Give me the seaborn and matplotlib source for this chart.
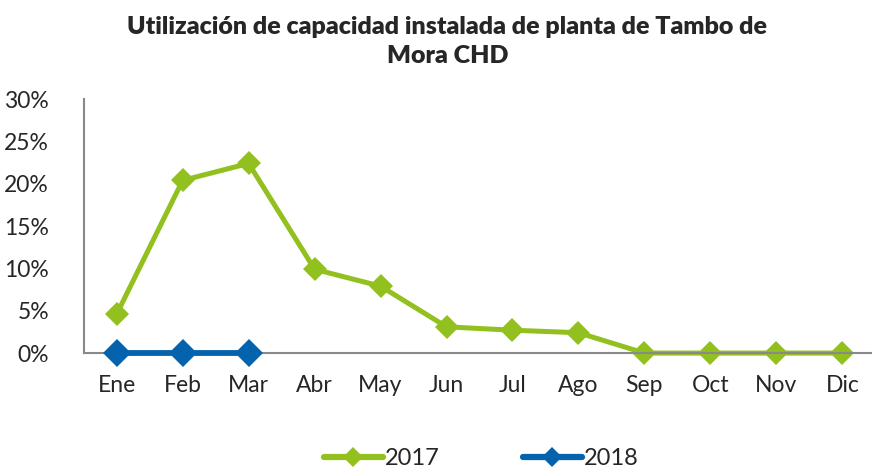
import matplotlib
matplotlib.use("Agg")
import matplotlib.pyplot as plt
import seaborn as sns
import pandas as pd

# datos
meses = ["Ene", "Feb", "Mar", "Abr", "May", "Jun", "Jul", "Ago", "Sep", "Oct", "Nov", "Dic"]
uso_2017 = [4.6, 20.4, 22.4, 9.9, 7.9, 3.1, 2.7, 2.4, 0.0, 0.0, 0.0, 0.0]
meses_2018 = ["Ene", "Feb", "Mar"]
uso_2018 = [0.0, 0.0, 0.0]

df = pd.concat([
    pd.DataFrame({"mes": meses, "uso": uso_2017, "anio": "2017"}),
    pd.DataFrame({"mes": meses_2018, "uso": uso_2018, "anio": "2018"}),
])
df["x"] = df["mes"].map({m: i for i, m in enumerate(meses)})

sns.set_style("white")
plt.rcParams["font.family"] = ["Lato", "DejaVu Sans"]

fig = plt.figure(figsize=(8.72, 4.72), dpi=100)
ax = fig.add_axes([0.096, 0.252, 0.904, 0.538])

colores = {"2017": "#92C01F", "2018": "#0563AD"}
sns.lineplot(data=df, x="x", y="uso", hue="anio", palette=colores, marker="D",
             markersize=12, markeredgewidth=0, linewidth=3.6, ax=ax)

# 2018 encima y algo más gruesa, como en el original
for l in ax.lines:
    l.set_clip_on(False)
ax.lines[1].set_zorder(4)
ax.lines[1].set_linewidth(4.2)
ax.lines[1].set_markersize(14)

ax.set_xlim(-0.5, 11.45)
ax.set_ylim(0, 30)
ax.set_yticks(range(0, 31, 5))
ax.set_yticklabels([f"{v}%" for v in range(0, 31, 5)], fontsize=16.5)
ax.set_xticks(range(len(meses)))
ax.set_xticklabels(meses, fontsize=16.5)
ax.tick_params(axis="both", length=0)
ax.tick_params(axis="x", pad=16)
ax.tick_params(axis="y", pad=25)
ax.set_xlabel("")
ax.set_ylabel("")
for s in ["top", "right"]:
    ax.spines[s].set_visible(False)
for s in ["left", "bottom"]:
    ax.spines[s].set_color("#898989")
    ax.spines[s].set_linewidth(1.5)

fig.text(0.513, 0.912, "Utilización de capacidad instalada de planta de Tambo de\nMora CHD",
         ha="center", va="center", fontsize=18, fontweight="heavy", linespacing=1.4)

handles, labels = ax.get_legend_handles_labels()
ax.get_legend().remove()
leg = fig.legend(handles, labels, loc="center", bbox_to_anchor=(0.552, 0.028), ncol=2,
                 frameon=False, fontsize=17, handlelength=2.5, handletextpad=0.1,
                 columnspacing=3.5, borderaxespad=0, borderpad=0)
for h in leg.get_lines():
    h.set_linewidth(4.5)
    h.set_markersize(10)

fig.savefig("out.png", dpi=100)
